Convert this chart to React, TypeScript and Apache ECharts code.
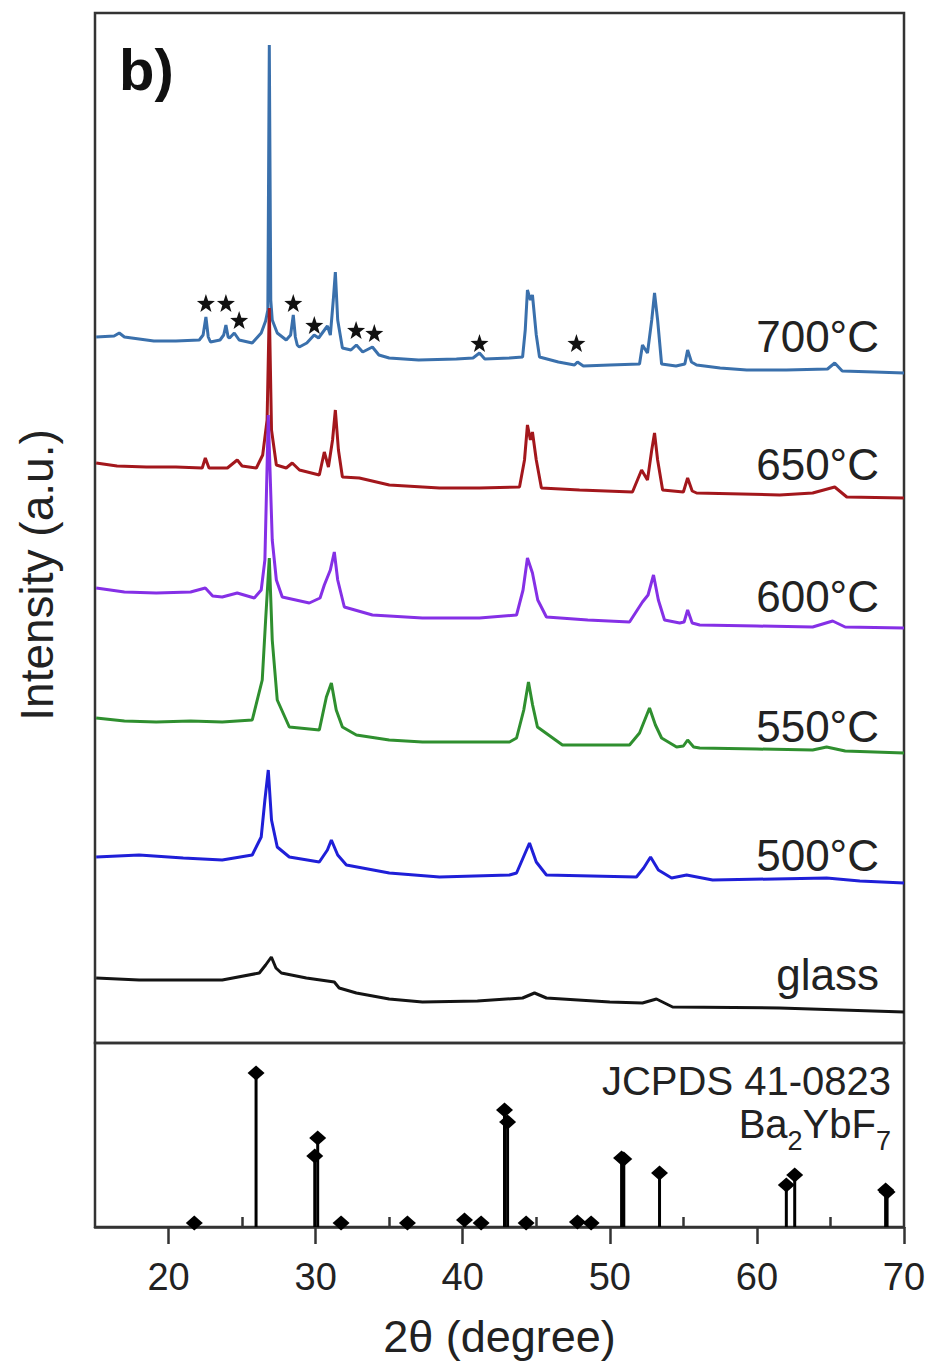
import React, { useEffect, useRef } from "react";
import * as echarts from "echarts";

// ---------- data ----------
const xTickValues = [20, 30, 40, 50, 60, 70];
const xMinorTickValues = [25, 35, 45, 55, 65];

const curveNames = ["700°C", "650°C", "600°C", "550°C", "500°C", "glass"];
const curveColors = ["#3a70ac", "#a3171c", "#8530e6", "#2f8f2f", "#1f1fd8", "#141414"];

// [2θ, intensity (a.u., offset stacked)]
const curve700: [number, number][] = [
  [15.08, 706], [16.3, 707], [16.65, 710], [17.0, 706], [17.5, 705], [19.0, 702], [20.5, 702],
  [22.09, 703], [22.35, 708], [22.54, 726], [22.7, 706], [22.85, 701], [23.5, 703], [23.75, 708],
  [23.9, 718], [24.05, 706], [24.15, 705], [24.47, 710], [24.8, 703], [25.69, 700], [26.3, 710],
  [26.6, 722], [26.75, 733], [26.85, 998], [26.95, 743], [27.05, 723], [27.39, 710], [28.0, 703],
  [28.3, 708], [28.48, 728], [28.62, 706], [28.75, 698], [28.89, 696], [29.4, 700], [29.9, 708],
  [30.2, 705], [30.6, 713], [30.8, 717], [31.0, 708], [31.2, 743], [31.34, 771], [31.5, 723],
  [31.82, 695], [32.4, 693], [32.77, 698], [33.2, 691], [33.86, 696], [34.3, 688], [35.0, 685],
  [37.0, 683], [39.57, 684], [40.7, 685], [41.14, 690], [41.5, 684], [43.18, 685], [44.07, 686],
  [44.25, 713], [44.4, 753], [44.6, 743], [44.74, 748], [45.0, 708], [45.22, 686], [46.5, 681],
  [47.6, 678], [47.8, 681], [48.2, 677], [50.0, 678], [52.02, 679], [52.22, 698], [52.56, 690],
  [52.85, 723], [53.04, 750], [53.25, 723], [53.52, 679], [54.5, 677], [55.1, 679], [55.29, 693],
  [55.55, 681], [55.9, 678], [57.5, 675], [59.31, 673], [62.0, 673], [64.8, 674], [65.29, 680],
  [65.8, 672], [68.0, 671], [70.0, 670],
];

const curve650: [number, number][] = [
  [15.08, 580], [16.5, 577], [18.5, 576], [20.5, 576], [22.29, 575], [22.5, 585], [22.75, 575],
  [24.0, 575], [24.67, 583], [25.0, 577], [25.97, 575], [26.4, 588], [26.7, 623], [26.85, 735],
  [27.0, 613], [27.33, 578], [28.0, 575], [28.41, 580], [28.9, 573], [30.25, 568], [30.59, 591],
  [30.87, 576], [31.15, 603], [31.34, 633], [31.55, 593], [31.82, 566], [32.97, 565], [35.01, 558],
  [38.42, 555], [41.14, 555], [43.86, 556], [44.2, 583], [44.4, 618], [44.6, 603], [44.74, 611],
  [45.0, 583], [45.35, 555], [47.94, 553], [51.54, 551], [52.16, 573], [52.56, 563], [52.85, 593],
  [53.04, 610], [53.25, 583], [53.59, 553], [55.0, 551], [55.29, 565], [55.6, 552], [55.9, 550],
  [61.55, 548], [63.79, 550], [65.29, 556], [66.11, 546], [70.0, 545],
];

const curve600: [number, number][] = [
  [15.08, 455], [17.0, 451], [19.16, 450], [21.5, 451], [22.5, 455], [23.0, 447], [23.65, 446],
  [24.67, 450], [25.83, 445], [26.3, 453], [26.55, 483], [26.78, 628], [27.05, 503], [27.33, 463],
  [27.73, 446], [29.57, 440], [30.3, 445], [30.59, 458], [31.0, 473], [31.27, 491], [31.5, 463],
  [31.95, 436], [33.86, 428], [37.26, 425], [41.14, 425], [43.66, 428], [44.1, 453], [44.4, 485],
  [44.74, 470], [45.1, 443], [45.69, 426], [48.5, 423], [51.34, 421], [52.22, 441], [52.6, 448],
  [52.97, 468], [53.3, 443], [53.72, 423], [54.75, 420], [55.05, 421], [55.29, 433], [55.6, 420],
  [56.11, 418], [60.0, 417], [63.79, 416], [65.15, 422], [66.0, 416], [70.0, 415],
];

const curve550: [number, number][] = [
  [15.08, 325], [17.0, 322], [19.16, 321], [21.5, 322], [23.65, 321], [25.69, 323], [26.37, 363],
  [26.6, 423], [26.85, 485], [27.05, 403], [27.39, 343], [28.21, 316], [30.25, 313], [30.73, 346],
  [31.07, 360], [31.4, 333], [31.82, 316], [32.77, 308], [35.0, 303], [37.26, 301], [43.18, 301],
  [43.66, 305], [44.15, 333], [44.47, 361], [44.75, 338], [45.08, 316], [46.78, 298], [51.34, 298],
  [52.02, 310], [52.7, 335], [53.1, 318], [53.52, 305], [54.54, 296], [55.0, 297], [55.29, 303],
  [55.7, 296], [56.11, 295], [60.0, 294], [63.79, 293], [64.74, 296], [66.0, 292], [70.0, 290],
];

const curve500: [number, number][] = [
  [15.08, 186], [18.0, 188], [21.0, 185], [23.65, 183], [25.69, 188], [26.3, 206], [26.55, 243],
  [26.78, 273], [27.0, 223], [27.39, 196], [28.21, 186], [30.25, 181], [30.8, 193], [31.07, 203],
  [31.5, 188], [32.09, 178], [35.01, 170], [38.42, 166], [43.18, 168], [43.66, 170], [44.1, 185],
  [44.54, 200], [45.0, 181], [45.69, 168], [51.81, 166], [52.3, 175], [52.77, 186], [53.3, 173],
  [54.2, 165], [55.22, 168], [56.99, 163], [64.74, 165], [67.0, 162], [70.0, 160],
];

const curveGlass: [number, number][] = [
  [15.08, 65], [18.0, 63], [21.0, 63], [23.65, 63], [26.17, 70], [26.6, 78], [26.99, 86],
  [27.3, 75], [27.67, 70], [29.37, 65], [30.8, 62], [31.27, 61], [31.6, 55], [32.77, 50],
  [35.0, 44], [37.26, 41], [41.0, 42], [44.07, 45], [44.88, 50], [45.69, 45], [50.0, 41],
  [52.22, 40], [53.17, 44], [54.27, 36], [61.55, 35], [70.0, 31],
];

const curves = [curve700, curve650, curve600, curve550, curve500, curveGlass];

// impurity peaks marked with stars on the 700°C pattern
const starMarks: [number, number][] = [
  [22.54, 740], [23.9, 740], [24.8, 723], [28.48, 740], [29.91, 718],
  [32.75, 713], [33.99, 710], [41.14, 700], [47.73, 700],
];

// JCPDS 41-0823 reference lines [2θ, relative intensity]
const jcpdsPeaks: [number, number][] = [
  [21.75, 4], [25.95, 154], [29.94, 71], [30.14, 89], [31.73, 4], [36.24, 4], [40.12, 7],
  [41.25, 4], [42.84, 117], [43.05, 105], [44.31, 4], [47.8, 5], [48.73, 4], [50.8, 69],
  [50.95, 68], [53.38, 54], [62.0, 42], [62.57, 52], [68.75, 37], [68.85, 35],
];

// formula text pieces: [text, isSubscript]
const formulaParts: [string, boolean][] = [["Ba", false], ["2", true], ["YbF", false], ["7", true]];

// ---------- layout ----------
const FONT = "'Liberation Sans', Arial, sans-serif";
const labelCenters = [336, 464, 596, 726, 855, 974];
const STAR_PATH =
  "path://M0,-10 L2.35,-3.24 L9.51,-3.09 L3.8,1.24 L5.88,8.09 L0,4 L-5.88,8.09 L-3.8,1.24 L-9.51,-3.09 L-2.35,-3.24 Z";

function measure(text: string, font: string): number {
  const c = document.createElement("canvas").getContext("2d");
  if (!c) return text.length * 20;
  c.font = font;
  return c.measureText(text).width;
}

export default function App() {
  const ref = useRef<HTMLDivElement>(null);

  useEffect(() => {
    if (!ref.current) return;
    const chart = echarts.init(ref.current, null, { renderer: "svg" });

    const lineSeries = curves.map((data, i) => ({
      name: curveNames[i],
      type: "line",
      xAxisIndex: 0,
      yAxisIndex: 0,
      data,
      symbol: "none",
      showSymbol: false,
      smooth: false,
      lineStyle: { color: curveColors[i], width: 3 },
      itemStyle: { color: curveColors[i] },
      z: 2 + i,
    }));

    // formula Ba2YbF7 laid out right-aligned with subscripts
    const mainFont = `40px ${FONT}`;
    const subFont = `27px ${FONT}`;
    const widths = formulaParts.map(([t, sub]) => measure(t, sub ? subFont : mainFont));
    const total = widths.reduce((a, b) => a + b, 0);
    let cursor = 891 - total;
    const formulaTexts = formulaParts.map(([t, sub], i) => {
      const el = {
        type: "text",
        x: cursor,
        y: sub ? 1141 : 1124,
        style: { text: t, font: sub ? subFont : mainFont, fill: "#222", align: "left", verticalAlign: "middle" },
        z: 20,
      };
      cursor += widths[i];
      return el;
    });

    const option: any = {
      animation: false,
      backgroundColor: "#ffffff",
      grid: [
        { left: 95, top: 13, width: 809, height: 1030, show: true, borderColor: "#333", borderWidth: 2.5, backgroundColor: "transparent" },
        { left: 95, top: 1043, width: 809, height: 184, show: true, borderColor: "#333", borderWidth: 2.5, backgroundColor: "transparent" },
      ],
      xAxis: [
        { gridIndex: 0, type: "value", min: 15, max: 70, show: false },
        {
          gridIndex: 1,
          type: "value",
          min: 15,
          max: 70,
          axisLine: { show: true, onZero: false, lineStyle: { color: "#333", width: 2.5 } },
          axisTick: { show: true, customValues: xTickValues, length: 17, lineStyle: { color: "#333", width: 2.5 } },
          axisLabel: { show: true, customValues: xTickValues, fontSize: 38, color: "#222", margin: 31, fontFamily: FONT },
          splitLine: { show: false },
          name: "2θ (degree)",
          nameLocation: "middle",
          nameGap: 87,
          nameTextStyle: { fontSize: 45, color: "#222", fontFamily: FONT },
        },
        {
          gridIndex: 1,
          type: "value",
          min: 15,
          max: 70,
          axisLine: { show: false },
          axisTick: { show: true, customValues: xMinorTickValues, length: 10, lineStyle: { color: "#333", width: 2.5 } },
          axisLabel: { show: false },
          splitLine: { show: false },
        },
      ],
      yAxis: [
        { gridIndex: 0, type: "value", min: 0, max: 1030, show: false },
        { gridIndex: 1, type: "value", min: 0, max: 184, show: false },
      ],
      series: [
        ...lineSeries,
        {
          name: "impurity",
          type: "scatter",
          xAxisIndex: 0,
          yAxisIndex: 0,
          data: starMarks,
          symbol: STAR_PATH,
          symbolSize: 18,
          itemStyle: { color: "#111", opacity: 1 },
          z: 10,
        },
        {
          name: "JCPDS lines",
          type: "bar",
          xAxisIndex: 1,
          yAxisIndex: 1,
          data: jcpdsPeaks,
          barWidth: 3,
          itemStyle: { color: "#000", opacity: 1 },
          z: 3,
        },
        {
          name: "JCPDS markers",
          type: "scatter",
          xAxisIndex: 1,
          yAxisIndex: 1,
          data: jcpdsPeaks,
          symbol: "diamond",
          symbolSize: [17, 15],
          itemStyle: { color: "#000", opacity: 1 },
          z: 4,
        },
      ],
      graphic: [
        {
          type: "text",
          x: 119,
          y: 69,
          style: { text: "b)", font: `bold 58px ${FONT}`, fill: "#111", align: "left", verticalAlign: "middle" },
          z: 20,
        },
        {
          type: "text",
          x: 37,
          y: 575,
          rotation: Math.PI / 2,
          style: { text: "Intensity (a.u.)", font: `46px ${FONT}`, fill: "#222", align: "center", verticalAlign: "middle" },
          z: 20,
        },
        ...curveNames.map((name, i) => ({
          type: "text",
          x: 879,
          y: labelCenters[i],
          style: { text: name, font: `44px ${FONT}`, fill: "#222", align: "right", verticalAlign: "middle" },
          z: 20,
        })),
        {
          type: "text",
          x: 891,
          y: 1081,
          style: { text: "JCPDS 41-0823", font: `40px ${FONT}`, fill: "#222", align: "right", verticalAlign: "middle" },
          z: 20,
        },
        ...formulaTexts,
      ],
    };

    chart.setOption(option);
    return () => chart.dispose();
  }, []);

  return (
    <div
      ref={ref}
      style={{ position: "absolute", left: 0, top: 0, width: 932, height: 1367, background: "#fff" }}
    />
  );
}
